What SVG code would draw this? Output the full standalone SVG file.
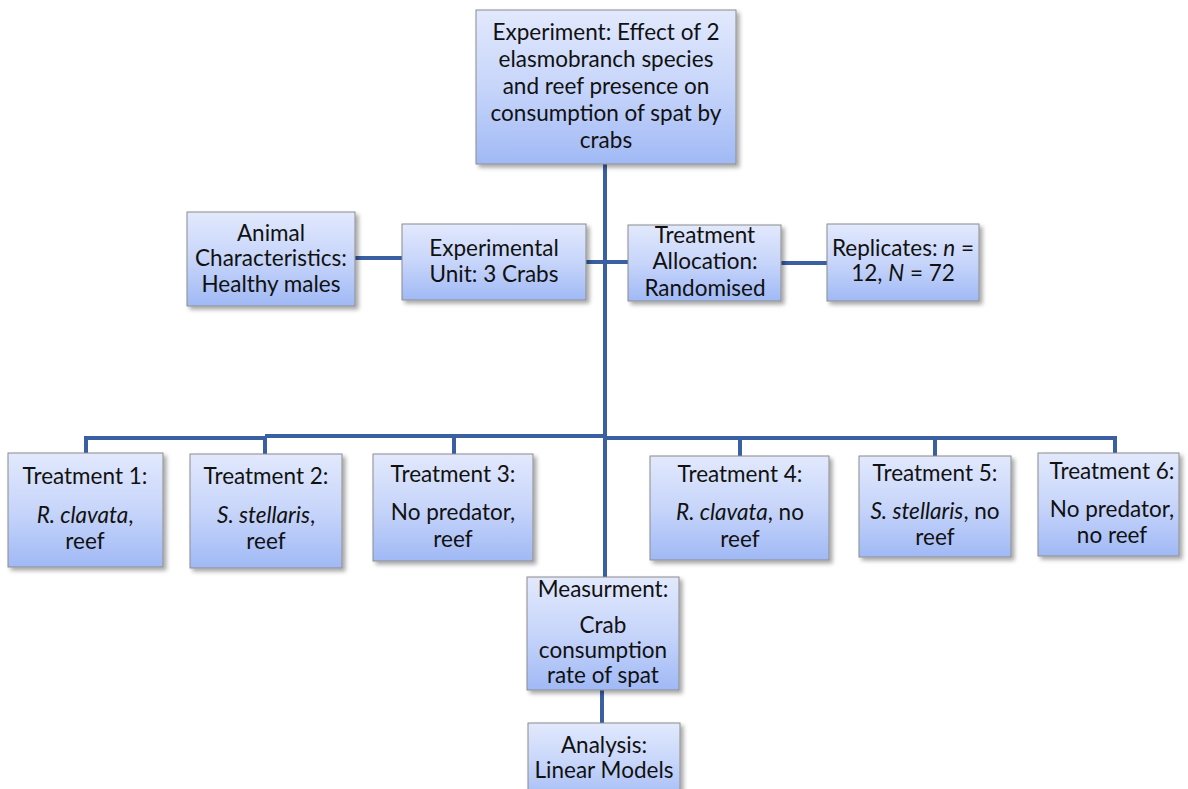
<svg xmlns="http://www.w3.org/2000/svg" width="1188" height="789" viewBox="0 0 1188 789">
<defs>
<linearGradient id="g" x1="0" y1="0" x2="0" y2="1">
<stop offset="0" stop-color="#e2e9fd"/>
<stop offset="0.5" stop-color="#c7d5fa"/>
<stop offset="1" stop-color="#a0b9f5"/>
</linearGradient>
<filter id="sh" x="-10%" y="-10%" width="125%" height="125%">
<feDropShadow dx="3" dy="3" stdDeviation="2" flood-color="#000" flood-opacity="0.35"/>
</filter>
</defs>
<style>
.box{fill:url(#g);stroke:#8c8c8c;stroke-width:1;filter:url(#sh)}
text{font-family:Lato,"Open Sans","Liberation Sans",sans-serif;font-size:22.5px;fill:#111;text-anchor:middle}
.c{fill:none;stroke:#3a5fa2;stroke-width:4}
.i{font-style:italic}
</style>
<rect width="1188" height="789" fill="#fff"/>
<g id="connectors">
<path class="c" d="M605,164 V577"/>
<path class="c" d="M355,258 H402"/>
<path class="c" d="M586,262 H605"/>
<path class="c" d="M605,262 H628"/>
<path class="c" d="M781,263 H827"/>
<path class="c" d="M86,454 V438 H265 V454"/>
<path class="c" d="M265,436 H605"/>
<path class="c" d="M454,436 V454"/>
<path class="c" d="M605,438 H1115 V453"/>
<path class="c" d="M740,438 V456"/>
<path class="c" d="M935,438 V456"/>
<path class="c" d="M602,690 V723"/>
</g>
<g id="experiment">
<rect class="box" x="476" y="10" width="260" height="154"/>
<text x="606" y="40">Experiment: Effect of 2</text>
<text x="606" y="67">elasmobranch species</text>
<text x="606" y="94">and reef presence on</text>
<text x="606" y="121">consumption of spat by</text>
<text x="606" y="148">crabs</text>
</g>
<g id="animal">
<rect class="box" x="187" y="212" width="168" height="94"/>
<text x="271" y="241">Animal</text>
<text x="271" y="266">Characteristics:</text>
<text x="271" y="292">Healthy males</text>
</g>
<g id="unit">
<rect class="box" x="402" y="224" width="184" height="76"/>
<text x="494" y="256">Experimental</text>
<text x="494" y="282">Unit: 3 Crabs</text>
</g>
<g id="allocation">
<rect class="box" x="628" y="225" width="153" height="76"/>
<text x="705" y="243">Treatment</text>
<text x="705" y="269">Allocation:</text>
<text x="705" y="296">Randomised</text>
</g>
<g id="replicates">
<rect class="box" x="827" y="224" width="152" height="77"/>
<text x="903" y="256">Replicates: <tspan class="i">n</tspan> =</text>
<text x="903" y="281">12, <tspan class="i">N</tspan> = 72</text>
</g>
<g id="t1">
<rect class="box" x="8" y="453" width="155" height="114"/>
<text x="85" y="484">Treatment 1:</text>
<text x="85" y="523"><tspan class="i">R. clavata</tspan>,</text>
<text x="85" y="549">reef</text>
</g>
<g id="t2">
<rect class="box" x="190" y="454" width="152" height="114"/>
<text x="266" y="484">Treatment 2:</text>
<text x="266" y="523"><tspan class="i">S. stellaris</tspan>,</text>
<text x="266" y="549">reef</text>
</g>
<g id="t3">
<rect class="box" x="373" y="454" width="160" height="107"/>
<text x="453" y="482">Treatment 3:</text>
<text x="453" y="520">No predator,</text>
<text x="453" y="547">reef</text>
</g>
<g id="t4">
<rect class="box" x="650" y="456" width="179" height="104"/>
<text x="740" y="482">Treatment 4:</text>
<text x="740" y="520"><tspan class="i">R. clavata</tspan>, no</text>
<text x="740" y="547">reef</text>
</g>
<g id="t5">
<rect class="box" x="859" y="456" width="152" height="101"/>
<text x="935" y="481">Treatment 5:</text>
<text x="935" y="519"><tspan class="i">S. stellaris</tspan>, no</text>
<text x="935" y="545">reef</text>
</g>
<g id="t6">
<rect class="box" x="1038" y="453" width="141" height="103"/>
<text x="1112" y="479">Treatment 6:</text>
<text x="1112" y="517">No predator,</text>
<text x="1112" y="543">no reef</text>
</g>
<g id="measurement">
<rect class="box" x="527" y="577" width="152" height="113"/>
<text x="603" y="597">Measurment:</text>
<text x="603" y="633">Crab</text>
<text x="603" y="658">consumption</text>
<text x="603" y="683">rate of spat</text>
</g>
<g id="analysis">
<rect class="box" x="528" y="723" width="152" height="80"/>
<text x="604" y="753">Analysis:</text>
<text x="604" y="778">Linear Models</text>
</g>
</svg>
